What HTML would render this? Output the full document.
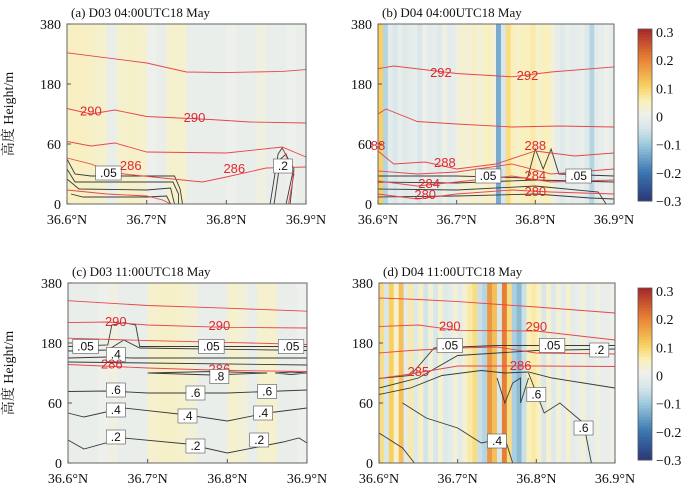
<!DOCTYPE html>
<html><head><meta charset="utf-8"><style>
body{margin:0;background:#fff;width:700px;height:495px;overflow:hidden}
svg{display:block}
</style></head><body>
<svg id="fig" width="700" height="495" xmlns="http://www.w3.org/2000/svg" font-family="Liberation Serif, serif"></svg>
<script>
const yTickLabels=["0","60","180","380"];
const xTickLabels=["36.6°N","36.7°N","36.8°N","36.9°N"];
const cbarLabels=["0.3","0.2","0.1","0","−0.1","−0.2","−0.3"];
const titles=["(a) D03 04:00UTC18 May","(b) D04 04:00UTC18 May","(c)  D03 11:00UTC18 May","(d) D04 11:00UTC18 May"];
const stripesA=[0.04,0.04,0.035,0.03,-0.01,0.03,0.035,0.03,0.0,-0.01,0.03,0.03,-0.01,-0.01,-0.01,-0.01,0.0,-0.01,-0.01,0.01,-0.01,-0.01,0.0,-0.01];
const stripesB=[0.1,-0.08,-0.02,-0.04,-0.015,-0.03,-0.02,-0.015,-0.04,0.0,-0.02,-0.015,-0.03,0.01,-0.02,-0.015,0.02,0.03,0.015,0.04,0.02,0.03,0.05,0.015,-0.14,-0.04,0.08,0.05,0.03,0.05,0.04,0.06,0.03,0.04,0.05,0.02,-0.015,-0.03,-0.01,-0.02,-0.015,-0.01,-0.03,-0.08,-0.02,-0.015,0.0,-0.015];
const stripesC=[-0.01,-0.01,-0.01,0.0,0.01,-0.01,-0.01,-0.01,0.03,0.035,0.035,0.03,0.02,-0.01,-0.01,-0.01,0.03,0.02,-0.01,0.03,0.03,-0.01,-0.01,0.0];
const stripesD=[0.08,-0.04,0.1,0.03,0.12,-0.02,0.06,-0.03,0.04,-0.05,0.02,-0.04,0.03,-0.03,-0.02,0.02,-0.02,0.03,0.06,0.08,-0.06,-0.08,0.17,0.12,-0.04,0.2,0.08,-0.09,-0.12,-0.06,0.05,0.06,0.04,-0.04,0.03,-0.03,0.02,-0.02,0.03,-0.02,-0.01,0.02,-0.02,-0.015,0.01,-0.015,-0.01,0.0];
const redA=[
 [[36.6,284],[36.7,250],[36.75,220],[36.8,218],[36.87,222],[36.9,228]],
 [[36.6,131],[36.63,120],[36.66,128],[36.7,115],[36.78,109],[36.83,104],[36.9,102]],
 [[36.6,65],[36.63,58],[36.66,62],[36.7,52],[36.8,51],[36.87,57],[36.9,47]],
 [[36.6,46],[36.63,40],[36.66,31],[36.72,26],[36.77,22],[36.8,27],[36.85,36],[36.9,37]],
 [[36.6,14],[36.65,10],[36.7,8],[36.72,4],[36.73,0]],
 [[36.87,57],[36.885,30],[36.878,0]]];
const blackA=[
 [[36.6,45],[36.61,30],[36.63,28],[36.7,28],[36.735,28],[36.742,15],[36.745,0]],
 [[36.6,35],[36.61,22],[36.7,22],[36.733,22],[36.74,10],[36.74,0]],
 [[36.6,25],[36.615,15],[36.7,14],[36.73,16],[36.735,0]],
 [[36.605,10],[36.62,7],[36.7,7],[36.725,8],[36.73,0]],
 [[36.855,0],[36.865,50],[36.87,56],[36.885,35],[36.88,0]],
 [[36.86,0],[36.868,45],[36.875,50],[36.883,30],[36.875,0]]];
const redB=[
 [[36.6,231],[36.62,240],[36.7,215],[36.77,204],[36.82,220],[36.9,237]],
 [[36.6,120],[36.61,130],[36.65,105],[36.7,100],[36.77,94],[36.83,96],[36.9,94]],
 [[36.6,53],[36.62,40],[36.66,42],[36.7,35],[36.75,40],[36.8,53],[36.85,48],[36.9,51]],
 [[36.6,33],[36.65,30],[36.7,32],[36.77,40],[36.82,30],[36.9,35]],
 [[36.6,23],[36.65,18],[36.7,22],[36.77,28],[36.82,22],[36.9,24]],
 [[36.6,10],[36.65,5],[36.7,10],[36.77,14],[36.82,12],[36.9,10]]];
const blackB=[
 [[36.6,28],[36.7,28],[36.79,26],[36.8,55],[36.81,35],[36.82,55],[36.83,30],[36.9,28]],
 [[36.6,22],[36.7,21],[36.8,24],[36.9,22]],
 [[36.6,15],[36.7,14],[36.8,18],[36.88,12],[36.89,0]],
 [[36.6,7],[36.7,8],[36.8,10],[36.87,6],[36.9,5]]];
const redC=[
 [[36.6,321],[36.7,305],[36.8,296],[36.9,286]],
 [[36.6,248],[36.65,250],[36.7,240],[36.8,232],[36.9,230]],
 [[36.6,196],[36.7,188],[36.8,182],[36.9,177]],
 [[36.6,137],[36.7,130],[36.8,125],[36.9,123]]];
const blackC=[
 [[36.6,173],[36.65,176],[36.655,240],[36.67,248],[36.685,240],[36.69,173],[36.9,173]],
 [[36.6,164],[36.65,166],[36.67,190],[36.69,170],[36.9,165]],
 [[36.6,150],[36.65,152],[36.68,150],[36.9,150]],
 [[36.6,142],[36.7,140],[36.9,136]],
 [[36.7,120],[36.78,116],[36.85,120],[36.78,123],[36.7,120]],
 [[36.86,120],[36.88,117],[36.9,120],[36.88,122],[36.86,120]],
 [[36.6,83],[36.65,84],[36.7,80],[36.8,80],[36.9,86]],
 [[36.6,50],[36.62,46],[36.67,55],[36.75,48],[36.8,42],[36.85,50],[36.9,55]],
 [[36.6,23],[36.62,14],[36.67,25],[36.75,19],[36.8,10],[36.87,21],[36.89,25],[36.9,20]]];
const redD=[
 [[36.6,330],[36.65,325],[36.7,318],[36.8,300],[36.9,280]],
 [[36.6,235],[36.65,240],[36.7,222],[36.8,220],[36.9,190]],
 [[36.6,160],[36.64,165],[36.7,170],[36.75,172],[36.8,160],[36.9,158]],
 [[36.6,109],[36.64,118],[36.7,134],[36.8,134],[36.9,133]]];
const blackD=[
 [[36.6,109],[36.64,115],[36.67,170],[36.75,175],[36.9,175]],
 [[36.6,90],[36.65,110],[36.7,155],[36.8,165],[36.9,168]],
 [[36.6,77],[36.64,90],[36.68,115],[36.73,125],[36.76,120],[36.79,122],[36.82,110],[36.86,100],[36.9,90]],
 [[36.63,60],[36.66,45],[36.7,35],[36.73,20],[36.76,25],[36.77,0]],
 [[36.79,120],[36.8,80],[36.81,50],[36.83,60],[36.86,40],[36.87,0]],
 [[36.6,30],[36.63,15],[36.645,0]],
 [[36.75,110],[36.76,60],[36.77,100],[36.78,110],[36.78,60],[36.79,110]]];
const labelsA=[[36.652,31,".05","k"],[36.68,38,"286","r"],[36.63,125,"290","r"],[36.76,112,"290","r"],[36.81,35,"286","r"],[36.871,38,".2","k"]];
const labelsB=[[36.68,216,"292","r"],[36.79,207,"292","r"],[36.6,58,"88","r"],[36.685,41,"288","r"],[36.8,58,"288","r"],[36.74,28,".05","k"],[36.855,28,".05","k"],[36.665,20,"284","r"],[36.8,28,"284","r"],[36.66,9,"280","r"],[36.8,12,"280","r"]];
const labelsC=[[36.66,250,"290","r"],[36.79,236,"290","r"],[36.622,173,".05","k"],[36.78,173,".05","k"],[36.88,173,".05","k"],[36.66,157,".4","k"],[36.655,137,"286","r"],[36.79,127,"286","r"],[36.79,113,".8","k"],[36.66,86,".6","k"],[36.76,80,".6","k"],[36.85,83,".6","k"],[36.66,53,".4","k"],[36.75,47,".4","k"],[36.845,50,".4","k"],[36.66,26,".2","k"],[36.76,17,".2","k"],[36.84,23,".2","k"]];
const labelsD=[[36.69,235,"290","r"],[36.8,233,"290","r"],[36.69,175,".05","k"],[36.82,175,".05","k"],[36.88,166,".2","k"],[36.65,122,"285","r"],[36.78,134,"286","r"],[36.8,77,".6","k"],[36.75,22,".4","k"],[36.86,35,".6","k"]];

const NS="http://www.w3.org/2000/svg";
const svg=document.getElementById('fig');
function el(t,a,p){const e=document.createElementNS(NS,t);for(const k in a)e.setAttribute(k,a[k]);(p||svg).appendChild(e);return e;}
const stops=[[-0.3,[44,54,119]],[-0.2,[58,120,178]],[-0.1,[160,203,222]],[-0.05,[212,229,233]],[0,[238,240,236]],[0.05,[250,240,185]],[0.1,[249,208,98]],[0.2,[230,126,51]],[0.3,[165,38,42]]];
function cmap(v){v=Math.max(-0.3,Math.min(0.3,v));for(let i=0;i<stops.length-1;i++){const a=stops[i],b=stops[i+1];if(v<=b[0]){const t=(v-a[0])/(b[0]-a[0]);const c=a[1].map((x,j)=>Math.round(x+(b[1][j]-x)*t));return `rgb(${c})`;}}return 'rgb(165,38,42)';}
function hFrac(h){if(h<=60)return h/180;if(h<=180)return 1/3+(h-60)/360;return 2/3+(h-180)/600;}
const panels=[
 {x0:67,x1:306,y0:24,y1:204,st:stripesA,red:redA,blk:blackA,lab:labelsA,yt:true,cb:false,name:'panel-a'},
 {x0:378,x1:614,y0:24,y1:204,st:stripesB,red:redB,blk:blackB,lab:labelsB,yt:false,cb:true,name:'panel-b'},
 {x0:68,x1:307,y0:283,y1:463,st:stripesC,red:redC,blk:blackC,lab:labelsC,yt:true,cb:false,name:'panel-c'},
 {x0:379,x1:615,y0:283,y1:463,st:stripesD,red:redD,blk:blackD,lab:labelsD,yt:false,cb:true,name:'panel-d'}];
panels.forEach((P,pi)=>{
 const g=el('g',{});
 
 
 const W=P.x1-P.x0,H=P.y1-P.y0;
 const xs=lat=>P.x0+(lat-36.6)/0.3*W;
 const ys=h=>P.y1-hFrac(h)*H;
 const n=P.st.length,cw=W/n;
 P.st.forEach((v,i)=>{const r=el('rect',{x:(P.x0+i*cw).toFixed(2),y:P.y0,width:(cw+0.6).toFixed(2),height:H,fill:cmap(v)},g);
  });
 const drawLines=(arr,col,w,nm)=>arr.forEach(l=>{const p=el('polyline',{points:l.map(q=>xs(q[0]).toFixed(1)+','+ys(q[1]).toFixed(1)).join(' '),fill:'none',stroke:col,'stroke-width':w},g);
  });
 drawLines(P.blk,'#3a3a3a',0.9,'black-contour');
 drawLines(P.red,'#e8464a',0.9,'theta-contour');
 P.lab.forEach(L=>{const x=xs(L[0]),y=ys(L[1]);
  if(L[3]==='k'){const w=L[2].length*6.5+6;const b=el('rect',{x:x-w/2,y:y-7,width:w,height:14,fill:'#fff',stroke:'#555','stroke-width':0.6},g);
   }
  const t=el('text',{x:x,y:y+4,'text-anchor':'middle','font-family':'Liberation Sans, sans-serif','font-size':L[3]==='k'?12:13,fill:L[3]==='k'?'#111':'#e0282e'},g);
  t.textContent=L[2];});
 const fr=el('rect',{x:P.x0,y:P.y0,width:W,height:H,fill:'none',stroke:'#666','stroke-width':1},g);
 
 const tt=el('text',{x:P.x0+4,y:P.y0-7,'font-size':13,fill:'#111'},g);
 tt.textContent=titles[pi];
 yTickLabels.forEach((s,i)=>{const y=P.y1-i/3*H;
  el('line',{x1:P.x0,x2:P.x0+4,y1:y,y2:y,stroke:'#555'},g);
  const t=el('text',{x:P.x0-6,y:y+5,'text-anchor':'end','font-size':14,fill:'#111'},g);
  t.textContent=s;});
 xTickLabels.forEach((s,i)=>{const x=P.x0+i/3*W;
  el('line',{x1:x,x2:x,y1:P.y1,y2:P.y1-4,stroke:'#555'},g);
  const t=el('text',{x:x,y:P.y1+20,'text-anchor':'middle','font-size':14,fill:'#111'},g);
  t.textContent=s;});
 if(P.yt){const cy=(P.y0+P.y1)/2;const t=el('text',{x:13,y:cy,'text-anchor':'middle','font-size':14,fill:'#111',transform:`rotate(-90 13 ${cy})`,'font-family':'Liberation Serif, Noto Serif CJK SC, serif'},g);
  t.textContent='高度 Height/m';}
 if(P.cb){const cx=638,cy0=P.y0+5,cy1=P.y1-3,ch=cy1-cy0;const cg=el('g',{},g);
  
  for(let k=0;k<60;k++){const v=0.3-(k+0.5)*0.6/60;el('rect',{x:cx,y:cy0+k*ch/60,width:14,height:ch/60+0.5,fill:cmap(v)},cg);}
  el('rect',{x:cx,y:cy0,width:14,height:ch,fill:'none',stroke:'#555','stroke-width':0.8},cg);
  cbarLabels.forEach((s,i)=>{const t=el('text',{x:656,y:cy0+3+i*(ch-3)/6+5,'font-size':14,fill:'#111'},cg);
   t.textContent=s;});}
});
</script>
</body></html>
